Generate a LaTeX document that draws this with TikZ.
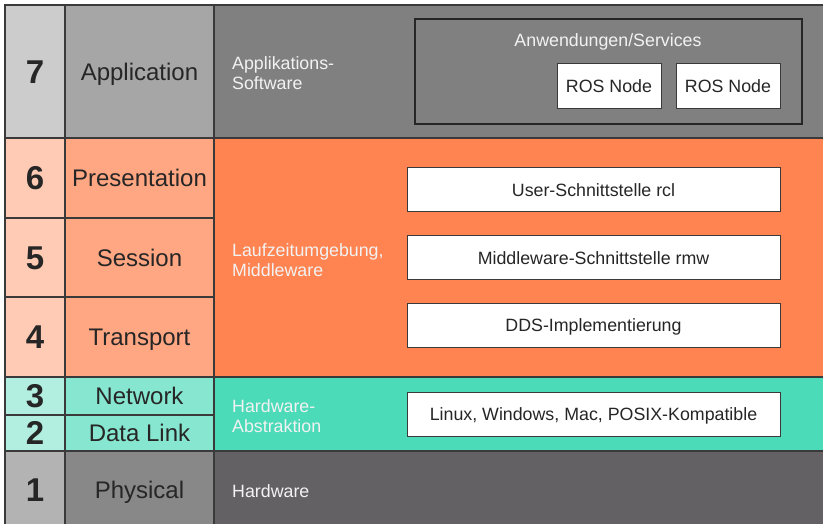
\documentclass[tikz,border=0pt]{standalone}
\usepackage{fontspec}
\setmainfont{Liberation Sans}
\usepackage{tikz}
\usetikzlibrary{positioning}
\definecolor{CellLine}{HTML}{3A3A3A}
\definecolor{InkDark}{HTML}{262626}
\definecolor{InkLight}{HTML}{F2F2F2}
\definecolor{AppNum}{HTML}{CCCCCC}
\definecolor{AppName}{HTML}{A6A6A6}
\definecolor{AppInfo}{HTML}{808080}
\definecolor{MidNum}{HTML}{FFCBB5}
\definecolor{MidName}{HTML}{FFA783}
\definecolor{MidInfo}{HTML}{FF8451}
\definecolor{HalNum}{HTML}{B3EFE0}
\definecolor{HalName}{HTML}{86E6CF}
\definecolor{HalInfo}{HTML}{4BDBB8}
\definecolor{PhyNum}{HTML}{B3B3B3}
\definecolor{PhyName}{HTML}{888888}
\definecolor{PhyInfo}{HTML}{636163}

\begin{document}
\begin{tikzpicture}[x=1pt, y=-1pt,
  cell/.style={draw=CellLine, line width=1.2pt, inner sep=0pt, outer sep=0pt,
               text depth=0pt},
  numcell/.style={cell, anchor=north west, minimum width=60pt, text height=23.6pt,
               font=\fontsize{33}{33}\selectfont\bfseries, text=InkDark},
  namecell/.style={cell, minimum width=149pt, text height=17.2pt,
               font=\fontsize{24}{24}\selectfont, text=InkDark},
  infocell/.style={cell, minimum width=615pt},
  infolabel/.style={anchor=west, align=left, inner sep=0pt, text=InkLight,
               font=\fontsize{17.8}{20}\selectfont},
  ifbox/.style={draw=CellLine, line width=1pt, fill=white, inner sep=0pt,
               minimum width=373pt, minimum height=44pt, text=InkDark,
               text height=12.7pt, text depth=0pt,
               font=\fontsize{17.8}{20}\selectfont}
]
\clip (0,0) rectangle (823,524);
\fill[white] (0,0) rectangle (823,524);

% layer numbers
\node[numcell, fill=AppNum, minimum height=133pt] (n7) at (5,5) {7};
\node[numcell, fill=MidNum, minimum height=80pt] (n6) at (5,138) {6};
\node[numcell, fill=MidNum, minimum height=79pt] (n5) at (5,218) {5};
\node[numcell, fill=MidNum, minimum height=80pt] (n4) at (5,297) {4};
\node[numcell, fill=HalNum, minimum height=38pt] (n3) at (5,377) {3};
\node[numcell, fill=HalNum, minimum height=36pt] (n2) at (5,415) {2};
\node[numcell, fill=PhyNum, minimum height=78pt] (n1) at (5,451) {1};

% OSI layer names
\node[namecell, fill=AppName, minimum height=133pt, right=0pt of n7] (l7) {Application};
\node[namecell, fill=MidName, minimum height=80pt, right=0pt of n6] (l6) {Presentation};
\node[namecell, fill=MidName, minimum height=79pt, right=0pt of n5] (l5) {Session};
\node[namecell, fill=MidName, minimum height=80pt, right=0pt of n4] (l4) {Transport};
\node[namecell, fill=HalName, minimum height=38pt, right=0pt of n3] (l3) {Network};
\node[namecell, fill=HalName, minimum height=36pt, right=0pt of n2] (l2) {Data Link};
\node[namecell, fill=PhyName, minimum height=78pt, right=0pt of n1] (l1) {Physical};

% ROS 2 areas
\node[infocell, anchor=north west, fill=AppInfo, minimum height=133pt] (appinfo) at (214,5) {};
\node[infocell, anchor=north west, fill=MidInfo, minimum height=239pt] (midinfo) at (214,138) {};
\node[infocell, anchor=north west, fill=HalInfo, minimum height=74pt] (halinfo) at (214,377) {};
\node[infocell, anchor=north west, fill=PhyInfo, minimum height=78pt] (phyinfo) at (214,451) {};

\node[infolabel] (applbl) at (232,73) {Applikations-\\Software};
\node[infolabel] (midlbl) at (232,260) {Laufzeitumgebung,\\Middleware};
\node[infolabel] (hallbl) at (232,416) {Hardware-\\Abstraktion};
\node[infolabel] (phylbl) at (232,491) {Hardware};

% application frame
\node[draw=InkDark, line width=2.5pt, fill=AppInfo, minimum width=387pt,
      minimum height=105pt] (services) at (608.5,71.5) {};
\node[text=InkLight, text height=12.7pt, text depth=0pt,
      font=\fontsize{17.8}{20}\selectfont] (svctitle) at (608,40) {Anwendungen/Services};
\node[ifbox, minimum width=104pt, minimum height=45pt] (rosa) at (609,86.5) {ROS Node};
\node[ifbox, minimum width=104pt, minimum height=45pt] (rosb) at (728,86.5) {ROS Node};

% interfaces
\node[ifbox] (rcl) at (593.5,190) {User-Schnittstelle rcl};
\node[ifbox] (rmw) at (593.5,258) {Middleware-Schnittstelle rmw};
\node[ifbox] (dds) at (593.5,325) {DDS-Implementierung};
\node[ifbox] (osbox) at (593.5,414.5) {Linux, Windows, Mac, POSIX-Kompatible};
\end{tikzpicture}
\end{document}
